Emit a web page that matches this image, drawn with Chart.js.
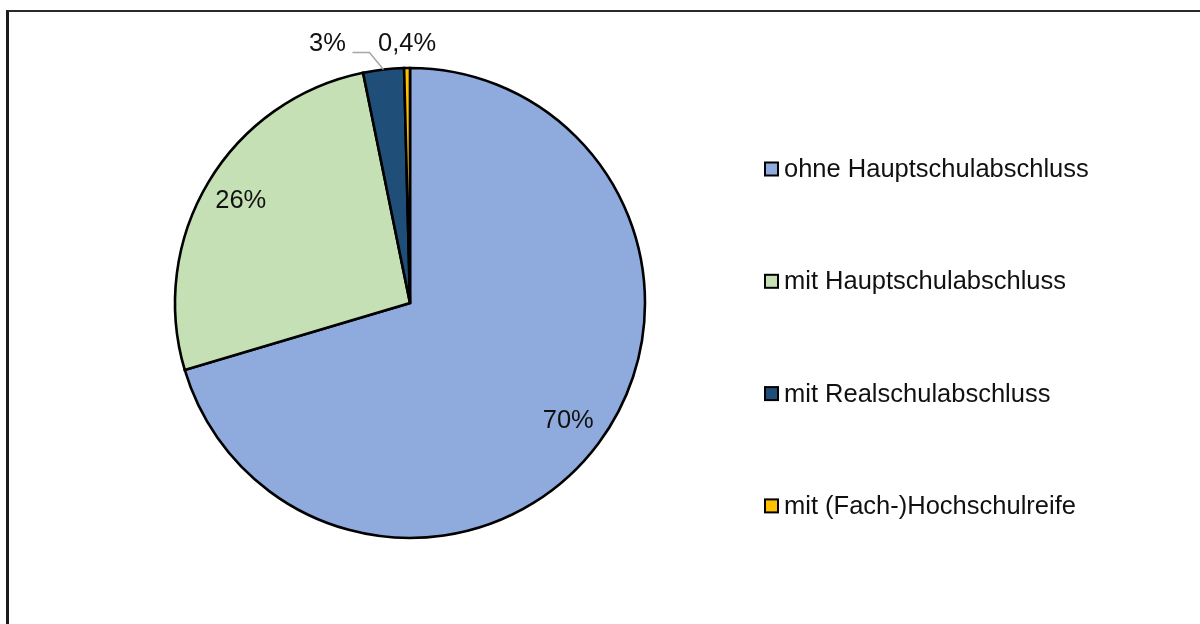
<!DOCTYPE html>
<html lang="de">
<head>
<meta charset="utf-8">
<title>Schulabschluss</title>
<script src="https://cdn.jsdelivr.net/npm/chart.js@4.4.0/dist/chart.umd.min.js"></script>
<style>
  html, body { margin: 0; padding: 0; background: #fff; }
  #wrap { position: relative; width: 1200px; height: 624px; overflow: hidden; }
  #frame {
    position: absolute; left: 6px; top: 10px; width: 1200px; height: 700px;
    border-left: 3px solid #1a1a1a; border-top: 2px solid #2a2a2a;
  }
  canvas { position: absolute; left: 0; top: 0; }
</style>
</head>
<body>
<div id="wrap">
  <div id="frame"></div>
  <canvas id="pie" width="1200" height="624"></canvas>
</div>
<script>
// Kategorien und Werte (Anteile in %)
const kategorien = [
  'ohne Hauptschulabschluss',
  'mit Hauptschulabschluss',
  'mit Realschulabschluss',
  'mit (Fach-)Hochschulreife'
];
const anteile = [70.4, 26.4, 2.8, 0.4];
const farben = ['#8FAADC', '#C5E0B4', '#1F4E79', '#FFC000'];

const SCHRIFT = '"Liberation Sans", Arial, sans-serif';
const GROESSE = 25.5;

// Beschriftung im deutschen Format: 70%, 0,4%
function formatProzent(v) {
  if (v < 1) return v.toFixed(1).replace('.', ',') + '%';
  return Math.round(v) + '%';
}

// Beschriftungen der Segmente zeichnen
const labelPlugin = {
  id: 'segmentLabels',
  afterDatasetsDraw(chart) {
    const ctx = chart.ctx;
    const meta = chart.getDatasetMeta(0);
    ctx.save();
    ctx.font = GROESSE + 'px ' + SCHRIFT;
    ctx.fillStyle = '#111';
    ctx.textAlign = 'center';
    ctx.textBaseline = 'middle';
    meta.data.forEach((arc, i) => {
      const p = arc.getProps(['x', 'y', 'startAngle', 'endAngle', 'outerRadius'], true);
      const mitte = (p.startAngle + p.endAngle) / 2;
      const text = formatProzent(anteile[i]);
      if (anteile[i] >= 5) {
        const r = p.outerRadius * 0.84;
        ctx.fillText(text, p.x + Math.cos(mitte) * r, p.y + Math.sin(mitte) * r);
      } else {
        // kleine Segmente: außen, mit Führungslinie beim 3%-Wert
        const ax = p.x + Math.cos(mitte) * p.outerRadius;
        const ay = p.y + Math.sin(mitte) * p.outerRadius;
        if (anteile[i] >= 1) {
          ctx.strokeStyle = '#a6a6a6';
          ctx.lineWidth = 1.5;
          ctx.beginPath();
          ctx.moveTo(ax, ay);
          ctx.lineTo(ax - 14, ay - 17);
          ctx.lineTo(ax - 31, ay - 17);
          ctx.stroke();
          ctx.fillText(text, ax - 56, ay - 26);
        } else {
          ctx.fillText(text, ax, ay - 24);
        }
      }
    });
    ctx.restore();
  }
};

// Legende rechts, große Abstände wie im Original
const legendePlugin = {
  id: 'legendeRechts',
  afterDraw(chart) {
    const ctx = chart.ctx;
    const x0 = 765, y0 = 169, abstand = 112.3, box = 13;
    ctx.save();
    ctx.font = GROESSE + 'px ' + SCHRIFT;
    ctx.textBaseline = 'middle';
    ctx.textAlign = 'left';
    kategorien.forEach((k, i) => {
      const y = y0 + i * abstand;
      ctx.fillStyle = farben[i];
      ctx.fillRect(x0, y - box / 2, box, box);
      ctx.strokeStyle = '#000';
      ctx.lineWidth = 2;
      ctx.strokeRect(x0, y - box / 2, box, box);
      ctx.fillStyle = '#111';
      ctx.fillText(k, x0 + 19, y + 1);
    });
    ctx.restore();
  }
};

new Chart(document.getElementById('pie').getContext('2d'), {
  type: 'pie',
  data: {
    labels: kategorien,
    datasets: [{
      data: anteile,
      backgroundColor: farben,
      borderColor: '#000',
      borderWidth: 2.6,
      borderJoinStyle: 'miter'
    }]
  },
  options: {
    responsive: false,
    animation: false,
    radius: 235,
    layout: { padding: { left: 175, right: 555, top: 68, bottom: 86 } },
    plugins: {
      legend: { display: false },
      tooltip: { enabled: false }
    }
  },
  plugins: [labelPlugin, legendePlugin]
});
</script>
</body>
</html>
